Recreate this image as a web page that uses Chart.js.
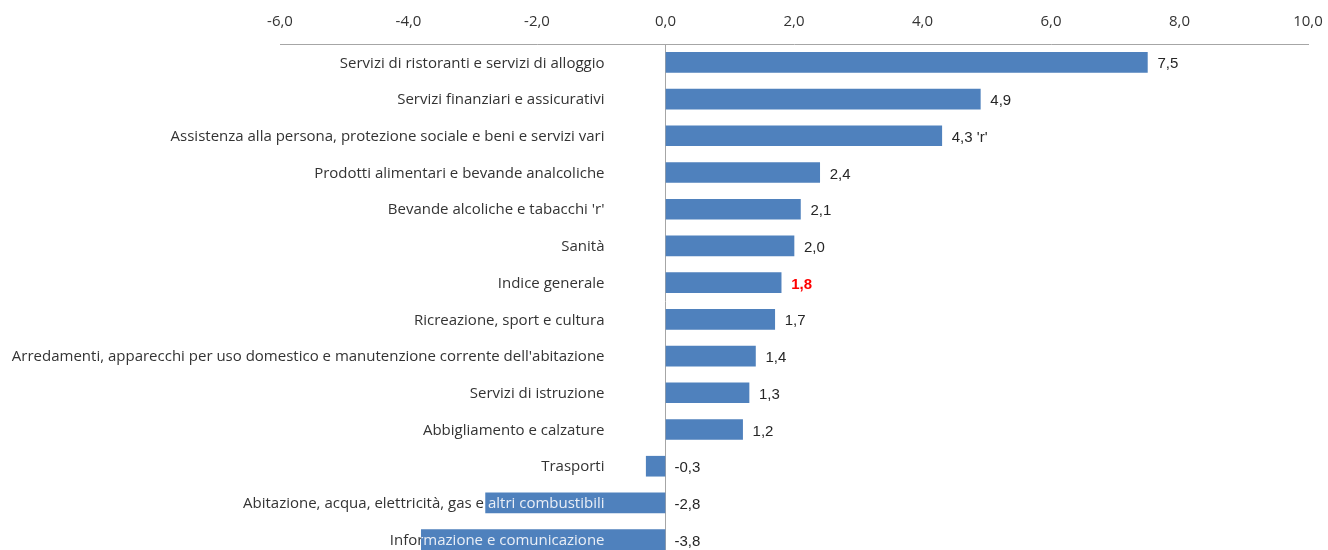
<!DOCTYPE html>
<html>
<head>
<meta charset="utf-8">
<script src="https://cdn.jsdelivr.net/npm/chart.js@4"></script>
<style>
  html, body { margin: 0; padding: 0; background: #fff; overflow: hidden; width: 1328px; height: 550px; }
  #wrap { width: 1328px; height: 558px; }
</style>
</head>
<body>
<div id="wrap"><canvas id="c"></canvas></div>
<script>
// categories and values
const categories = [
  'Servizi di ristoranti e servizi di alloggio',
  'Servizi finanziari e assicurativi',
  'Assistenza alla persona, protezione sociale e beni e servizi vari',
  'Prodotti alimentari e bevande analcoliche',
  "Bevande alcoliche e tabacchi 'r'",
  'Sanità',
  'Indice generale',
  'Ricreazione, sport e cultura',
  "Arredamenti, apparecchi per uso domestico e manutenzione corrente dell'abitazione",
  'Servizi di istruzione',
  'Abbigliamento e calzature',
  'Trasporti',
  'Abitazione, acqua, elettricità, gas e altri combustibili',
  'Informazione e comunicazione'
];
const values = [7.5, 4.9, 4.3, 2.4, 2.1, 2.0, 1.8, 1.7, 1.4, 1.3, 1.2, -0.3, -2.8, -3.8];
const valueLabels = ['7,5', '4,9', "4,3 'r'", '2,4', '2,1', '2,0', '1,8', '1,7', '1,4', '1,3', '1,2', '-0,3', '-2,8', '-3,8'];
const highlight = 'Indice generale';
const xTicks = [-6, -4, -2, 0, 2, 4, 6, 8, 10];

const labelFont = '15px "Open Sans", Lato, sans-serif';
const valueFont = '15px "Liberation Sans", Arial, sans-serif';

function barRects(chart) {
  return chart.getDatasetMeta(0).data.map(b => {
    const h = b.height;
    return { x0: Math.min(b.x, b.base), x1: Math.max(b.x, b.base), y0: b.y - h / 2, y1: b.y + h / 2, y: b.y };
  });
}

const labelsPlugin = {
  id: 'catLabels',
  beforeDatasetsDraw(chart) {
    const ctx = chart.ctx;
    const x0 = chart.scales.x.getPixelForValue(0);
    const bars = chart.getDatasetMeta(0).data;
    ctx.save();
    ctx.font = labelFont;
    ctx.fillStyle = '#333333';
    ctx.textAlign = 'right';
    ctx.textBaseline = 'middle';
    categories.forEach((c, i) => ctx.fillText(c, x0 - 61, bars[i].y + 1));
    ctx.restore();
  },
  afterDatasetsDraw(chart) {
    const ctx = chart.ctx;
    const x0 = chart.scales.x.getPixelForValue(0);
    const rects = barRects(chart);
    ctx.save();
    ctx.textBaseline = 'middle';
    // label text showing through the bars
    categories.forEach((c, i) => {
      const r = rects[i];
      ctx.save();
      ctx.beginPath();
      ctx.rect(r.x0, r.y0, r.x1 - r.x0, r.y1 - r.y0);
      ctx.clip();
      ctx.font = labelFont;
      ctx.fillStyle = '#e9eef6';
      ctx.textAlign = 'right';
      ctx.fillText(c, x0 - 61, r.y + 1);
      ctx.restore();
    });
    // value labels
    values.forEach((v, i) => {
      const r = rects[i];
      const isHi = categories[i] === highlight;
      ctx.font = (isHi ? 'bold ' : '') + valueFont;
      ctx.fillStyle = isHi ? '#ff0000' : '#262626';
      ctx.textAlign = 'left';
      const x = v >= 0 ? r.x1 + 10 : x0 + 9;
      ctx.fillText(valueLabels[i], x, r.y + 2);
    });
    ctx.restore();
  }
};

new Chart(document.getElementById('c'), {
  type: 'bar',
  data: {
    labels: categories,
    datasets: [{
      data: values,
      backgroundColor: '#4f81bd',
      borderWidth: 0,
      barThickness: 20
    }]
  },
  options: {
    indexAxis: 'y',
    responsive: true,
    maintainAspectRatio: false,
    animation: false,
    layout: { padding: { left: 280, right: 20, top: 0, bottom: 0 } },
    plugins: { legend: { display: false }, tooltip: { enabled: false } },
    scales: {
      x: {
        position: 'top',
        min: -6,
        max: 10,
        afterBuildTicks: s => { s.ticks = xTicks.map(v => ({ value: v })); },
        afterFit: s => { s.height = 44; s.paddingLeft = 0; s.paddingRight = 0; },
        ticks: {
          font: { family: '"Open Sans", Lato, sans-serif', size: 15 },
          color: '#333333',
          padding: 13,
          callback: v => v.toFixed(1).replace('.', ',')
        },
        grid: {
          drawTicks: false,
          color: ctx => (ctx.tick && ctx.tick.value === 0 ? '#a6a6a6' : 'rgba(0,0,0,0)'),
          lineWidth: 1
        },
        border: { color: '#a6a6a6', width: 1 }
      },
      y: {
        display: false,
        grid: { display: false }
      }
    }
  },
  plugins: [labelsPlugin]
});
</script>
</body>
</html>
